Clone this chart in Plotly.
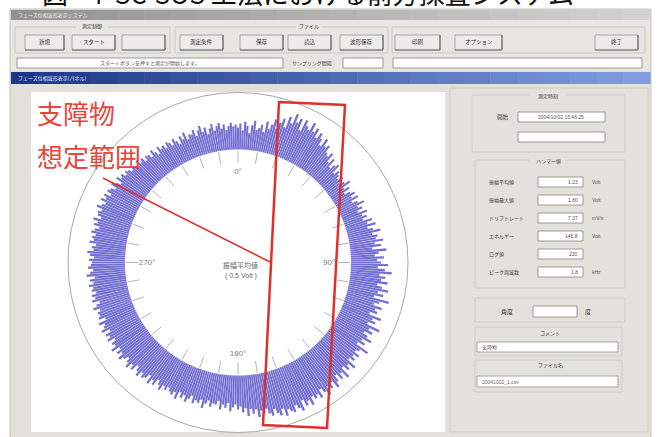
import plotly.graph_objects as go

W, H = 660, 437
CJK = "Noto Sans CJK JP"


def px(x):
    return x / W


def py(y):
    return 1 - y / H


# ---- data -------------------------------------------------------------
# amplitude of the returned wave per degree (0 deg = top, clockwise)
AMPLITUDE = [
    22, 26, 19, 28, 24, 17, 25, 30, 21, 23, 27, 20, 31, 24, 29, 35, 26, 33, 38, 30,
    42, 36, 47, 39, 44, 33, 45, 40, 37, 46, 38, 43, 34, 41, 36, 30, 39, 32, 35, 28,
    26, 31, 22, 28, 19, 24, 27, 18, 23, 20, 17, 22, 15, 20, 25, 16, 21, 14, 19, 23,
    18, 24, 16, 21, 27, 19, 23, 17, 26, 20, 24, 19, 28, 22, 30, 21, 26, 33, 24, 29,
    27, 34, 25, 31, 22, 36, 28, 24, 33, 26, 30, 37, 27, 34, 41, 29, 35, 31, 38, 28,
    33, 40, 30, 36, 27, 43, 34, 29, 38, 32, 35, 28, 41, 33, 37, 30, 44, 34, 39, 31,
    36, 42, 33, 38, 31, 45, 37, 34, 40, 35, 39, 34, 44, 37, 41, 35, 46, 38, 43, 36,
    42, 47, 39, 44, 40, 48, 43, 38, 46, 41, 44, 40, 48, 42, 46, 39, 49, 45, 41, 47,
    45, 42, 48, 40, 46, 43, 38, 44, 41, 36, 40, 37, 43, 35, 39, 34, 41, 33, 37, 31,
    34, 29, 32, 36, 28, 33, 30, 35, 27, 31, 30, 34, 28, 32, 37, 29, 33, 31, 35, 28,
    32, 36, 30, 34, 29, 37, 31, 35, 33, 30, 34, 31, 37, 33, 29, 36, 32, 38, 30, 35,
    37, 33, 39, 35, 31, 38, 34, 40, 36, 32, 36, 40, 34, 38, 33, 41, 35, 37, 32, 39,
    35, 38, 32, 40, 36, 34, 39, 31, 37, 35, 36, 33, 39, 35, 31, 38, 34, 37, 32, 36,
    34, 38, 33, 36, 31, 39, 35, 32, 37, 34, 33, 36, 31, 35, 38, 32, 34, 30, 37, 33,
    35, 32, 37, 34, 30, 36, 33, 38, 31, 35, 36, 33, 39, 35, 32, 38, 34, 37, 31, 36,
    34, 30, 36, 32, 28, 35, 31, 33, 29, 32, 30, 27, 32, 28, 25, 31, 26, 29, 24, 28,
    27, 23, 29, 25, 21, 28, 24, 26, 22, 27, 25, 21, 27, 23, 19, 26, 22, 28, 20, 24,
    23, 27, 20, 25, 29, 22, 26, 19, 24, 28, 21, 25, 28, 22, 26, 20, 24, 27, 23, 25,
]
ANGLES = list(range(360))
TICK_ANGLES = list(range(0, 360, 10))
AXIS_LABEL_ANGLES = [0, 90, 180, 270]
AXIS_LABELS = ["0°", "90°", "180°", "270°"]

BASE_RADIUS = 113   # radius of the mean-amplitude circle
OUTER_RADIUS = 170  # outer scale circle

RESULT_LABELS = ["振幅平均値", "振幅最大値", "ドリフトレート", "エネルギー", "ログ値", "ピーク周波数"]
RESULT_VALUES = ["1.23", "1.80", "7.37", "146.8", "230", "1.8"]
RESULT_UNITS = ["Volt", "Volt", "mV/s", "Volt", "", "kHz"]

BUTTONS = [
    ("新規", 25, 64), ("スタート", 72, 115), ("", 122, 165), ("測定条件", 180, 223),
    ("保存", 240, 283), ("読込", 288, 331), ("波形保存", 340, 383), ("印刷", 395, 440),
    ("オプション", 455, 502), ("終了", 595, 638),
]

# ---- figure -----------------------------------------------------------
fig = go.Figure()

fig.add_trace(go.Barpolar(
    r=AMPLITUDE, theta=ANGLES, base=BASE_RADIUS, width=0.88,
    marker=dict(color="rgba(96,92,204,0.88)", line=dict(width=0)),
    hoverinfo="skip", showlegend=False,
))

tick_r, tick_t = [], []
for a in TICK_ANGLES:
    tick_r += [100, 112, None]
    tick_t += [a, a, None]
fig.add_trace(go.Scatterpolar(
    r=tick_r, theta=tick_t, mode="lines",
    line=dict(color="#b4b4b4", width=1), hoverinfo="skip", showlegend=False,
))

fig.add_trace(go.Scatterpolar(
    r=[91] * len(AXIS_LABELS), theta=AXIS_LABEL_ANGLES, mode="text",
    text=AXIS_LABELS, textfont=dict(family="Arial", size=8, color="#808080"),
    hoverinfo="skip", showlegend=False,
))

fig.update_layout(
    width=W, height=H, margin=dict(l=0, r=0, t=0, b=0),
    paper_bgcolor="white", plot_bgcolor="white",
    polar=dict(
        domain=dict(x=[px(68), px(408)], y=[py(432.5), py(92.5)]),
        bgcolor="rgba(0,0,0,0)",
        radialaxis=dict(visible=False, range=[0, OUTER_RADIUS]),
        angularaxis=dict(rotation=90, direction="clockwise", showgrid=False,
                         showticklabels=False, ticks="", showline=True,
                         linecolor="#a8a8a8", linewidth=1),
    ),
)

shapes = []
annotations = []


def rect(x0, y0, x1, y1, fill, line=None, lw=1, layer="below"):
    shapes.append(dict(
        type="rect", xref="paper", yref="paper",
        x0=px(x0), x1=px(x1), y0=py(y1), y1=py(y0),
        fillcolor=fill, layer=layer,
        line=dict(color=line if line else "rgba(0,0,0,0)", width=lw if line else 0),
    ))


def hline(x0, x1, y, color, lw=1, layer="below"):
    shapes.append(dict(type="line", xref="paper", yref="paper",
                       x0=px(x0), x1=px(x1), y0=py(y), y1=py(y),
                       line=dict(color=color, width=lw), layer=layer))


def label(x, y, s, size=6, color="#3a3a3a", anchor="center", family=CJK):
    annotations.append(dict(
        x=px(x), y=py(y), xref="paper", yref="paper", text=s, showarrow=False,
        xanchor=anchor, yanchor="middle", font=dict(family=family, size=size, color=color),
    ))


def gradient(x0, y0, x1, y1, c0, c1, steps=24):
    for i in range(steps):
        t = i / (steps - 1)
        c = tuple(int(round(a + (b - a) * t)) for a, b in zip(c0, c1))
        xa = x0 + (x1 - x0) * i / steps
        xb = x0 + (x1 - x0) * (i + 1) / steps + 0.5
        rect(xa, y0, xb, y1, "rgb(%d,%d,%d)" % c)


# window frame
rect(10, 9, 651, 437, "#e3e1dc", "#c4c2bd")
gradient(11, 10, 650, 20, (146, 146, 146), (210, 210, 210))
label(16, 15, "フェーズ位相波形表示システム", size=5, color="#eeeeee", anchor="left")

# toolbar
rect(11, 20, 650, 71, "#e8e6e1")
rect(15, 27, 170, 53, "rgba(0,0,0,0)", "#c9c7c2")
rect(175, 27, 388, 53, "rgba(0,0,0,0)", "#c9c7c2")
rect(392, 27, 645, 53, "rgba(0,0,0,0)", "#c9c7c2")
rect(76, 23, 108, 30, "#e8e6e1")
label(92, 26.5, "測定制御", size=5)
rect(296, 23, 322, 30, "#e8e6e1")
label(309, 26.5, "ファイル", size=5)
for name, x0, x1 in BUTTONS:
    rect(x0, 35, x1, 50, "#eeece8", "#a6a4a0")
    hline(x0, x1, 50, "#6e6c68", 1.2)
    shapes.append(dict(type="line", xref="paper", yref="paper", x0=px(x1), x1=px(x1),
                       y0=py(50), y1=py(35), line=dict(color="#6e6c68", width=1.2), layer="below"))
    if name:
        label((x0 + x1) / 2, 42.5, name, size=5.5, color="#333333")

# status row
rect(17, 58, 283, 68, "white", "#9c9a96")
label(150, 63, "スタートボタンを押すと測定が開始します。", size=5, color="#555555")
label(312, 63, "サンプリング間隔", size=5, color="#444444")
rect(343, 58, 383, 68, "white", "#9c9a96")
rect(393, 58, 642, 68, "white", "#9c9a96")

# inner window title bar
gradient(11, 72, 650, 84, (28, 54, 136), (128, 156, 222))
label(16, 78, "フェーズ位相波形表示(パネル)", size=5, color="#e8ecff", anchor="left")

# plot panel and side panel
rect(11, 84, 650, 437, "#e2e0db")
rect(31, 92, 445, 432, "white")
rect(450, 88, 648, 432, "#e3e1dc", "#d0cec9")

# side panel: measurement time
rect(472, 95, 625, 152, "rgba(0,0,0,0)", "#cfcdc8")
rect(530, 91, 566, 99, "#e3e1dc")
label(548, 95.5, "測定時刻", size=5)
label(503, 117, "開始", size=5.5)
rect(518, 112, 605, 122, "white", "#9c9a96")
label(561, 117, "2004/10/02 15:46:25", size=5, color="#555555", family="Arial")
rect(518, 132, 605, 142, "white", "#9c9a96")

# side panel: results
rect(475, 160, 625, 288, "rgba(0,0,0,0)", "#cfcdc8")
rect(530, 156, 566, 164, "#e3e1dc")
label(548, 160.5, "ハンマー値", size=5)
for i, (lab, val, unit) in enumerate(zip(RESULT_LABELS, RESULT_VALUES, RESULT_UNITS)):
    yy = 182 + i * 18
    label(487, yy, lab, size=5, anchor="left")
    rect(538, yy - 5, 583, yy + 5, "white", "#9c9a96")
    label(580, yy, val, size=5, color="#555555", anchor="right", family="Arial")
    if unit:
        label(590, yy, unit, size=5, color="#555555", anchor="left", family="Arial")

# side panel: angle
rect(475, 298, 625, 322, "rgba(0,0,0,0)", "#cfcdc8")
label(507, 311.5, "角度", size=6)
rect(533, 306, 577, 317, "white", "#9c9a96")
label(588, 311.5, "度", size=6)

# side panel: comment and file name
rect(475, 327, 622, 356, "rgba(0,0,0,0)", "#cfcdc8")
rect(532, 328, 568, 336, "#e3e1dc")
label(550, 332, "コメント", size=5)
rect(477, 342, 618, 352, "white", "#a8a6a2")
label(480, 347, "支障物", size=5, color="#666666", anchor="left")
rect(475, 360, 622, 392, "rgba(0,0,0,0)", "#cfcdc8")
rect(532, 361, 568, 369, "#e3e1dc")
label(550, 365, "ファイル名", size=5)
rect(477, 376, 618, 387, "white", "#a8a6a2")
label(480, 381.5, "20041002_1.csv", size=5, color="#666666", anchor="left", family="Arial")

# centre caption
label(240, 265, "振幅平均値", size=7, color="#6a6a6a")
label(241, 276, "( 0.5 Volt )", size=7, color="#6a6a6a", family="Arial")

# obstacle range markup
RED = "#e0302a"
shapes.append(dict(
    type="path", xref="paper", yref="paper", layer="above",
    path="M %f,%f L %f,%f L %f,%f L %f,%f Z" % (
        px(279), py(102), px(345), py(105), px(327), py(428), px(263), py(425)),
    line=dict(color=RED, width=2.5), fillcolor="rgba(0,0,0,0)",
))
shapes.append(dict(type="line", xref="paper", yref="paper", layer="above",
                   x0=px(103), y0=py(178), x1=px(270), y1=py(262),
                   line=dict(color=RED, width=1.6)))
label(35, 113, "支障物", size=26, color="#e8463c", anchor="left")
label(35, 155, "想定範囲", size=26, color="#e8463c", anchor="left")

# figure caption at the top edge
annotations.append(dict(
    x=px(40), y=py(-8), xref="paper", yref="paper", showarrow=False,
    text="図 - 4  SC-SOS 工法における前方探査システム", xanchor="left", yanchor="middle",
    font=dict(family=CJK, size=26, color="#111111"),
))

fig.update_layout(shapes=shapes, annotations=annotations)
fig.write_html("out.html", config={"displayModeBar": False})
